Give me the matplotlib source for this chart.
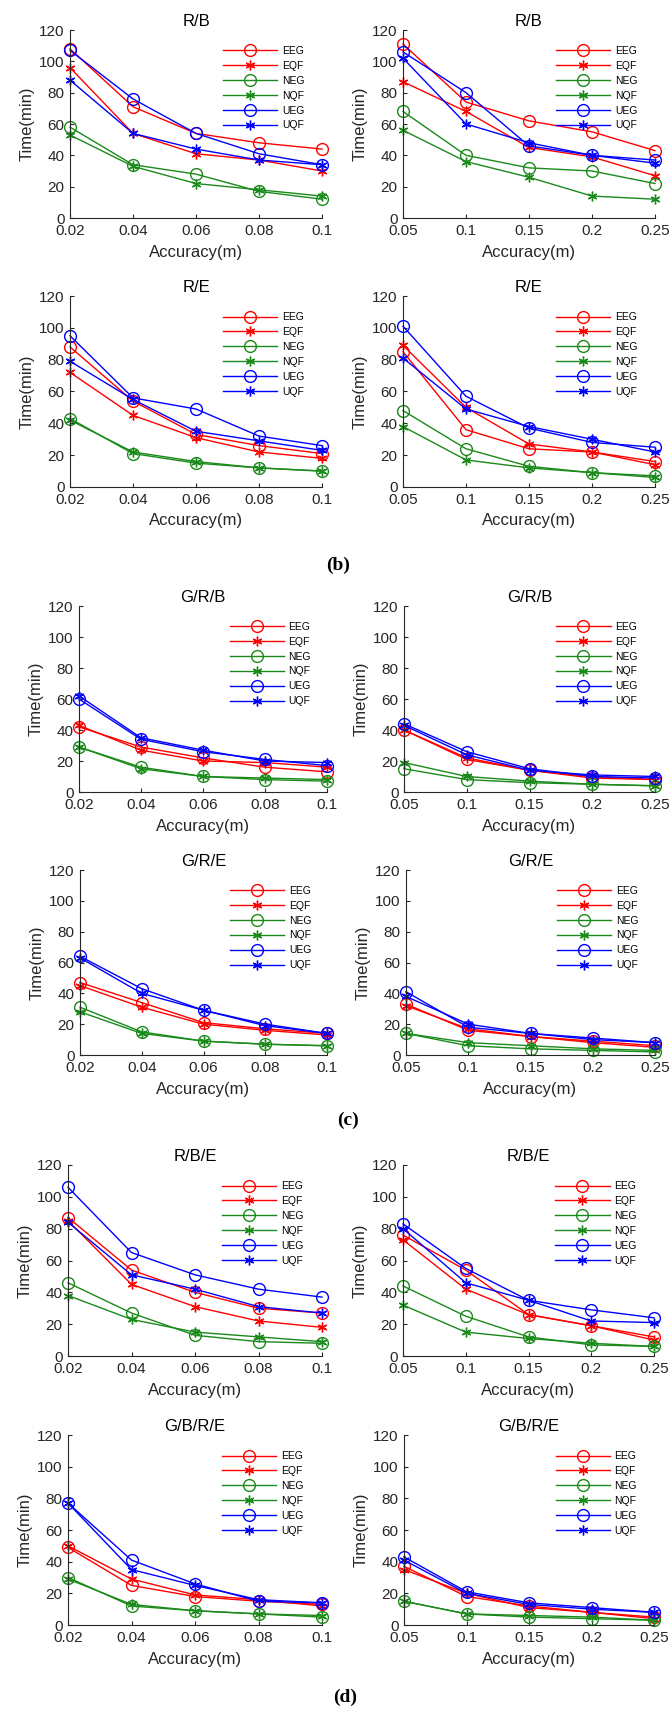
#!/usr/bin/env python3
"""
Time vs accuracy for the six EEG/EQF/NEG/NQF/UEG/UQF strategies,
panels (b), (c) and (d), two accuracy ranges each.
"""

import matplotlib
matplotlib.use("Agg")
import matplotlib.pyplot as plt

# x axes
acc_fine = [0.02, 0.04, 0.06, 0.08, 0.1]
acc_fine_labels = ["0.02", "0.04", "0.06", "0.08", "0.1"]
acc_coarse = [0.05, 0.1, 0.15, 0.2, 0.25]
acc_coarse_labels = ["0.05", "0.1", "0.15", "0.2", "0.25"]
y_ticks = [0, 20, 40, 60, 80, 100, 120]

series_names = ["EEG", "EQF", "NEG", "NQF", "UEG", "UQF"]

# rows follow series_names: EEG, EQF, NEG, NQF, UEG, UQF
rb_fine = [[108, 71, 54, 48, 44],
           [96, 54, 41, 37, 30],
           [58, 34, 28, 17, 12],
           [53, 33, 22, 18, 14],
           [107, 76, 54, 41, 34],
           [88, 54, 44, 37, 34]]
rb_coarse = [[111, 74, 62, 55, 43],
             [87, 68, 45, 39, 27],
             [68, 40, 32, 30, 22],
             [56, 36, 26, 14, 12],
             [106, 80, 46, 40, 37],
             [102, 60, 48, 40, 35]]
re_fine = [[88, 54, 33, 26, 21],
           [72, 45, 31, 22, 18],
           [43, 21, 15, 12, 10],
           [42, 22, 16, 12, 10],
           [95, 56, 49, 32, 26],
           [79, 55, 35, 29, 23]]
re_coarse = [[85, 36, 24, 22, 16],
             [89, 50, 27, 22, 14],
             [48, 24, 13, 9, 7],
             [38, 17, 12, 9, 6],
             [101, 57, 37, 28, 25],
             [81, 49, 38, 30, 22]]
grb_fine = [[42, 29, 22, 16, 13],
            [43, 27, 20, 19, 16],
            [29, 16, 10, 8, 7],
            [29, 15, 10, 9, 8],
            [60, 34, 26, 21, 17],
            [62, 35, 27, 20, 19]]
grb_coarse = [[40, 21, 14, 9, 8],
              [40, 22, 14, 10, 8],
              [15, 8, 6, 5, 4],
              [19, 10, 7, 5, 4],
              [44, 26, 15, 10, 9],
              [43, 24, 14, 11, 10]]
gre_fine = [[47, 34, 21, 17, 14],
            [45, 31, 20, 16, 13],
            [31, 15, 9, 7, 6],
            [28, 14, 9, 7, 6],
            [64, 43, 29, 20, 14],
            [63, 40, 29, 19, 14]]
gre_coarse = [[33, 16, 12, 9, 6],
              [32, 17, 12, 8, 5],
              [14, 6, 4, 3, 2],
              [14, 8, 6, 4, 3],
              [41, 18, 14, 11, 8],
              [38, 20, 14, 10, 8]]
rbe_fine = [[87, 54, 40, 30, 27],
            [85, 45, 31, 22, 18],
            [46, 27, 13, 9, 8],
            [38, 23, 15, 12, 9],
            [106, 65, 51, 42, 37],
            [84, 51, 42, 31, 27]]
rbe_coarse = [[76, 54, 26, 19, 12],
              [73, 42, 26, 19, 10],
              [44, 25, 12, 7, 6],
              [32, 15, 11, 8, 6],
              [83, 55, 35, 29, 24],
              [80, 46, 35, 22, 21]]
gbre_fine = [[49, 25, 18, 15, 13],
             [50, 29, 19, 16, 12],
             [30, 12, 9, 7, 5],
             [29, 13, 9, 7, 6],
             [77, 41, 26, 15, 14],
             [77, 35, 25, 16, 14]]
gbre_coarse = [[37, 18, 12, 8, 5],
               [35, 20, 11, 8, 4],
               [15, 7, 5, 4, 3],
               [15, 7, 6, 5, 3],
               [43, 21, 14, 11, 8],
               [41, 20, 13, 10, 8]]

GREEN = "#1a8a1a"
colors = ["red", "red", GREEN, GREEN, "blue", "blue"]
asterisk = (6, 2, 0)
markers = ["o", asterisk, "o", asterisk, "o", asterisk]
msizes = [8.5, 7, 8.5, 7, 8.5, 7]

W, H = 672, 1717
AX_COLOR = "0.15"

plt.rcParams["font.family"] = ["Liberation Sans", "DejaVu Sans"]


def rect(l, t, r, b):
    # pixel box -> figure fraction
    return [l / W, 1 - b / H, (r - l) / W, (b - t) / H]


def draw_panel(fig, box, title, x, xlabels, data):
    ax = fig.add_axes(rect(*box))
    for vals, name, c, m, ms in zip(data, series_names, colors, markers, msizes):
        ax.plot(x, vals, color=c, marker=m, markersize=ms, markerfacecolor="none",
                markeredgecolor=c, markeredgewidth=1.0, linewidth=1.0,
                label=name, clip_on=False)
    ax.set_xlim(x[0], x[-1])
    ax.set_ylim(0, 120)
    ax.set_xticks(x)
    ax.set_xticklabels(xlabels)
    ax.set_yticks(y_ticks)
    for s in ["top", "right"]:
        ax.spines[s].set_visible(False)
    for s in ["left", "bottom"]:
        ax.spines[s].set_color(AX_COLOR)
        ax.spines[s].set_linewidth(0.8)
    ax.tick_params(direction="in", length=3, width=0.8, labelsize=11,
                   colors=AX_COLOR, pad=4)
    ax.set_title(title, fontsize=12, pad=3, color="black")
    ax.set_xlabel("Accuracy(m)", fontsize=12, labelpad=5, color=AX_COLOR)
    ax.set_ylabel("Time(min)", fontsize=12, labelpad=3, color=AX_COLOR)
    ax.legend(loc="upper left", bbox_to_anchor=(0.607, 0.915), frameon=False,
              fontsize=7.5, handlelength=5.2, handletextpad=0.45, labelspacing=0.47,
              borderpad=0, borderaxespad=0)
    return ax


def main():
    fig = plt.figure(figsize=(W / 100, H / 100), dpi=100)

    panels = [
        ((70, 30, 322, 218), "R/B", acc_fine, acc_fine_labels, rb_fine),
        ((403, 30, 655, 218), "R/B", acc_coarse, acc_coarse_labels, rb_coarse),
        ((70, 296, 322, 487), "R/E", acc_fine, acc_fine_labels, re_fine),
        ((403, 296, 655, 487), "R/E", acc_coarse, acc_coarse_labels, re_coarse),
        ((79, 606, 327, 792), "G/R/B", acc_fine, acc_fine_labels, grb_fine),
        ((404, 606, 655, 792), "G/R/B", acc_coarse, acc_coarse_labels, grb_coarse),
        ((80, 870, 327, 1055), "G/R/E", acc_fine, acc_fine_labels, gre_fine),
        ((406, 870, 655, 1055), "G/R/E", acc_coarse, acc_coarse_labels, gre_coarse),
        ((68, 1165, 322, 1356), "R/B/E", acc_fine, acc_fine_labels, rbe_fine),
        ((403, 1165, 654, 1356), "R/B/E", acc_coarse, acc_coarse_labels, rbe_coarse),
        ((68, 1435, 322, 1625), "G/B/R/E", acc_fine, acc_fine_labels, gbre_fine),
        ((404, 1435, 654, 1625), "G/B/R/E", acc_coarse, acc_coarse_labels, gbre_coarse),
    ]
    for box, title, x, xl, data in panels:
        draw_panel(fig, box, title, x, xl, data)

    # sub-figure captions
    for label, cx, cy in [("(b)", 338, 565), ("(c)", 348, 1120), ("(d)", 345, 1697)]:
        fig.text(cx / W, 1 - cy / H, label, ha="center", va="center",
                 family=["Liberation Serif", "DejaVu Serif"], fontweight="bold",
                 fontsize=14)

    fig.savefig("out.png", dpi=100, facecolor="white")
    plt.close(fig)


if __name__ == "__main__":
    main()
